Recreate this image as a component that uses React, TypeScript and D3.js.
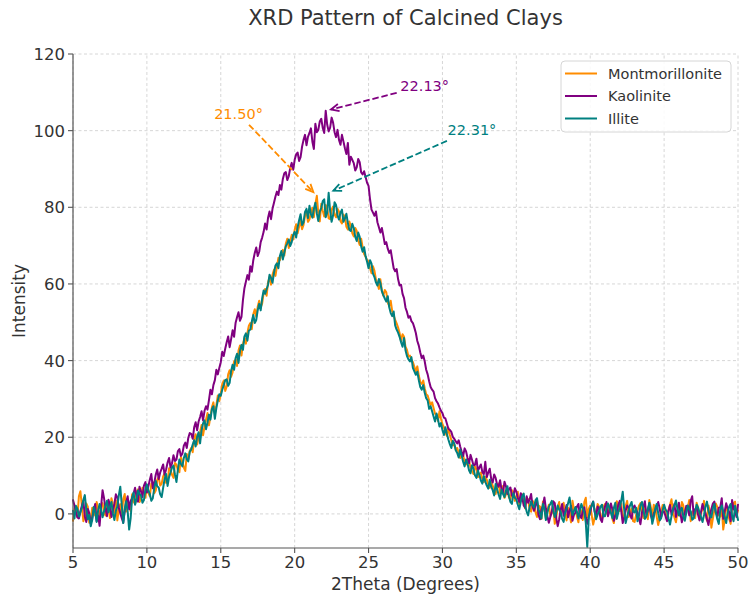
import React from 'react';
import * as d3 from 'd3';

// sampling grid of the patterns (2Theta, degrees)
const THETA_START = 5;
const THETA_STEP = 0.1;

const montmorillonite = [
  -1.8, 1.4, 0.9, -0.8, 4.6, 5.9, 2.2, -1.9, -0.6, 2.7, 1.9, -2.3, -1.4, 1.6, 0.8, -0.4, 3.1, 1.2, -0.9, 2.4,
  2.8, 0.3, -0.4, 3.2, 1.6, -1.1, 4.1, 2.6, 0.2, 3.5, -1.7, 1.2, 2.5, -0.6, 3.9, 5.2, 0.6, 3.4, 2.2, 0.7,
  5.1, 3.2, 2.6, 5.7, 6.4, 3.1, 3.9, 6.8, 5.8, 4.2, 7.2, 5.5, 4.6, 7.9, 8.3, 5.4, 6.1, 8.9, 9.6, 7.4,
  7.9, 9.8, 10.6, 8.1, 8.2, 11.9, 11.5, 10.2, 9.4, 13.3, 12.8, 11.4, 10.9, 14.8, 13.6, 12.1, 11.2, 15.6, 14.1, 16.4,
  17.2, 16.1, 19.6, 20.8, 18.1, 19.9, 21.4, 23.2, 20.5, 22.7, 24.6, 26.3, 23.1, 25.4, 27.8, 29.1, 26.2, 28.3, 30.9, 29.4,
  31.4, 33.9, 34.8, 32.1, 33.2, 36.4, 37.5, 35.8, 36.9, 39.8, 40.2, 38.6, 42.6, 43.9, 41.3, 44.2, 45.9, 44.4, 47.2, 49.1,
  49.8, 48.2, 52.1, 53.4, 51.4, 54.1, 55.6, 53.8, 54.9, 57.6, 58.7, 56.9, 60.4, 61.8, 59.8, 62.4, 63.7, 62.1, 64.6, 66.8,
  66.2, 67.9, 68.9, 67.4, 70.5, 71.8, 69.4, 71.2, 72.8, 71.6, 74.1, 75.6, 73.2, 74.9, 76.5, 74.3, 75.4, 77.8, 78.9, 76.2,
  76.8, 78.6, 79.9, 77.4, 80.8, 83.0, 78.4, 76.3, 80.9, 79.1, 77.6, 80.6, 79.8, 77.1, 76.9, 79.4, 80.2, 78.1, 77.4, 79.6,
  78.9, 76.4, 75.8, 78.1, 77.6, 74.9, 74.2, 76.3, 75.1, 73.2, 72.4, 74.6, 73.8, 71.4, 70.2, 71.8, 69.5, 67.8, 67.1, 66.2,
  65.9, 64.1, 62.8, 64.6, 63.4, 61.2, 60.1, 58.7, 61.2, 58.3, 56.9, 58.4, 57.8, 55.1, 54.2, 55.6, 52.9, 51.8, 50.6, 49.7,
  48.6, 47.2, 45.1, 46.9, 46.2, 43.6, 42.8, 41.1, 41.3, 40.2, 39.6, 38.4, 37.2, 38.5, 36.1, 34.4, 33.9, 34.8, 32.8, 31.2,
  30.9, 29.6, 28.4, 29.1, 27.6, 26.1, 25.9, 24.2, 26.8, 24.9, 23.4, 22.6, 21.2, 20.4, 22.5, 20.6, 19.3, 17.9, 18.1, 16.8,
  17.2, 15.9, 14.6, 16.1, 15.3, 13.6, 12.9, 14.4, 13.8, 12.1, 11.2, 10.4, 12.4, 11.6, 9.6, 10.2, 10.8, 9.1, 8.3, 9.7,
  8.9, 7.6, 6.8, 8.2, 7.4, 6.1, 5.2, 6.9, 7.9, 5.4, 6.1, 7.3, 4.2, 5.1, 6.6, 4.3, 3.8, 6.2, 5.7, 3.4,
  4.6, 5.8, 2.3, 3.6, 5.1, 2.7, 1.4, 4.2, 3.8, 1.1, 0.6, 3.4, 2.9, 0.4, -0.8, 2.2, 1.9, -1.3, 3.2, 1.5,
  -1.2, 0.9, 2.4, -0.6, 0.3, 1.7, -2.6, -0.9, 1.8, 3.1, -0.4, 1.2, 2.9, 0.1, -1.7, 1.6, 0.5, -2.2, 3.4, 1.1,
  1.6, -0.7, -2.2, 1.4, 0.8, -1.6, 3.1, 4.2, -0.9, 1.3, 2.2, -0.3, -2.8, -1.1, 0.4, 2.6, 1.9, -0.6, -1.5, 1.8,
  2.6, 0.4, -0.3, 2.2, 1.1, -1.3, -2.4, 0.8, 3.3, 1.6, 0.7, 2.8, -1.6, -0.4, 2.1, 3.4, -0.8, 0.6, 1.4, -1.9,
  -2.1, -0.4, 0.9, 2.1, 2.8, 0.3, -1.1, 1.7, 0.2, -1.4, 3.6, 1.8, -0.7, 2.4, 1.5, -0.8, -2.9, -1.2, 0.6, 2.3,
  1.8, 0.2, -1.3, 1.1, 2.4, 3.8, 0.3, -0.9, -2.2, 0.4, 1.2, -0.7, 3.1, 2.2, -0.5, 1.3, 1.7, 3.6, -1.9, 0.5,
  0.8, -1.1, 2.9, 1.6, -1.4, 0.2, 1.3, 3.4, -0.2, -1.8, 2.2, 0.6, -3.6, -1.2, 0.9, 2.7, 1.8, -0.3, -0.7, 1.9,
  -4.1, -1.6, 2.3, 0.8, -1.2, -2.6, 1.4, 2.8, 3.2, -0.4, 0.9,
];

const kaolinite = [
  3.6, 2.2, 0.4, -0.9, -1.2, 0.7, 2.1, 3.4, -0.6, -2.1, 1.3, 0.2, -2.4, -1.1, 0.8, 2.6, -1.9, -0.4, -3.1, 1.8,
  6.2, 4.1, 1.4, -0.6, 3.7, 2.3, -0.8, 0.9, 2.6, 5.1, 4.3, 1.6, 0.2, -1.1, -2.3, 0.7, 3.1, 4.6, 1.2, 3.4,
  4.1, 5.3, 6.8, 4.6, 3.2, 7.1, 5.9, 4.4, 7.4, 8.3, 5.6, 7.2, 8.9, 10.4, 6.7, 8.1, 10.2, 11.6, 9.1, 10.8,
  11.8, 12.9, 10.2, 11.6, 13.4, 14.6, 12.1, 13.2, 15.3, 13.8, 14.2, 16.4, 16.9, 15.1, 15.7, 17.8, 18.6, 17.2, 19.8, 21.1,
  20.9, 19.6, 22.6, 23.9, 21.8, 24.1, 25.3, 26.8, 24.4, 26.9, 28.1, 27.2, 29.7, 32.4, 31.2, 33.6, 34.9, 37.6, 36.4, 38.1,
  39.6, 42.3, 41.2, 43.1, 44.8, 46.3, 43.5, 45.6, 47.9, 46.2, 49.8, 51.3, 52.6, 50.4, 51.4, 55.8, 58.9, 60.6, 62.3, 61.1,
  64.6, 63.2, 66.2, 68.1, 69.5, 67.3, 68.4, 70.9, 72.1, 73.6, 75.8, 74.2, 77.3, 78.9, 76.9, 79.6, 81.2, 82.8, 84.1, 83.2,
  85.8, 84.6, 87.4, 88.9, 89.2, 87.1, 88.1, 90.3, 91.6, 89.8, 92.4, 93.8, 94.3, 92.1, 93.1, 95.8, 97.6, 98.9, 96.2, 98.4,
  99.4, 100.6, 97.1, 95.2, 101.8, 99.6, 100.2, 102.4, 103.1, 100.7, 99.4, 105.2, 101.6, 99.8, 100.8, 103.4, 102.1, 99.6, 98.3, 100.2,
  97.6, 96.3, 98.9, 97.2, 95.4, 93.9, 96.8, 91.1, 93.2, 92.4, 91.5, 89.6, 90.4, 92.6, 91.8, 89.1, 88.6, 89.4, 87.9, 86.4,
  85.6, 82.1, 79.4, 78.6, 77.8, 78.9, 76.1, 74.8, 73.4, 74.6, 72.6, 70.4, 70.9, 69.2, 68.1, 68.8, 66.4, 64.1, 63.3, 63.9,
  61.2, 59.6, 59.8, 57.4, 56.3, 53.8, 52.7, 51.2, 51.6, 50.3, 49.8, 48.6, 47.2, 45.1, 43.9, 42.1, 40.6, 41.3, 39.8, 37.6,
  36.4, 34.6, 33.1, 32.4, 31.9, 30.2, 29.4, 28.8, 27.8, 26.9, 26.3, 25.1, 24.9, 23.6, 22.2, 21.9, 21.4, 20.1, 19.6, 18.9,
  18.4, 19.2, 17.6, 16.2, 15.1, 17.1, 16.3, 14.6, 13.2, 15.4, 14.1, 12.6, 12.8, 14.4, 11.2, 12.1, 12.9, 10.9, 10.4, 13.6,
  9.6, 10.8, 11.8, 9.1, 8.2, 10.3, 9.4, 7.6, 7.1, 8.8, 6.3, 5.6, 8.4, 7.2, 5.2, 6.4, 6.9, 4.8, 4.6, 6.7,
  5.8, 4.2, 3.1, 5.4, 4.4, 2.2, 1.6, 4.6, 2.9, 3.8, 5.2, 1.9, 0.8, 2.4, 3.6, -0.3, -1.4, 1.2, 2.1, 4.3,
  1.4, -0.6, -2.3, -0.8, 0.6, 3.3, 2.8, -1.1, -3.2, -1.4, 1.1, 2.6, -0.5, 0.8, 2.3, -0.9, 0.9, 2.1, -1.8, -0.2,
  0.3, 1.9, 2.6, -0.4, -1.1, 0.8, 1.7, -0.9, -2.6, -0.8, 0.4, 2.3, 3.2, 0.6, -0.7, 1.9, 1.3, -1.4, -2.1, 0.5,
  1.9, 3.1, -0.6, 0.7, 2.7, 1.2, -1.8, -0.4, 0.5, 2.4, 3.4, 0.8, -2.4, -1.1, 0.9, 2.2, 1.6, -0.3, -1.2, 1.4,
  2.2, 1.1, 0.4, -1.2, -2.7, 0.3, 1.8, 3.3, -0.3, 0.9, 2.5, -0.4, -1.6, 0.2, 0.7, 2.1, 3.1, 1.4, -0.9, 0.6,
  0.6, -0.7, -1.9, 0.8, 2.3, -0.2, 1.1, 2.6, -0.8, 1.2, 2.9, 0.4, -2.2, -0.6, 0.3, 2.1, 1.5, -0.4, 3.4, 4.6,
  -0.4, 1.2, 1.8, -0.3, -1.7, 0.6, 2.6, 1.1, 0.2, -1.4, -2.9, -0.5, 1.3, 2.7, 3.2, 0.4, -0.6, 1.6, 1.7, 4.1,
  -1.3, 0.6, 2.8, 1.4, 0.5, -1.9, 3.6, 1.2, 0.9, -0.8, 2.4,
];

const illite = [
  0.8, -1.2, 2.1, 1.3, -0.7, 0.4, 1.6, 3.6, 4.9, 1.2, -1.4, -0.3, -3.2, -1.6, 1.8, 0.6, -2.1, 0.9, 2.6, 1.1,
  -0.9, 0.7, 2.2, 3.4, 0.4, 1.8, 3.1, 0.2, -1.6, 0.8, 1.9, 4.8, 7.1, 2.3, -2.4, 1.2, 3.3, 0.6, -4.1, -1.2,
  4.2, 5.6, 2.4, 3.8, 6.1, 5.2, 4.8, 2.9, 3.6, 6.3, 7.7, 6.1, 5.2, 3.4, 4.1, 6.7, 8.6, 7.2, 6.9, 5.1,
  4.4, 6.8, 9.1, 10.4, 7.3, 9.6, 10.8, 12.1, 12.6, 10.3, 8.3, 11.6, 14.2, 13.1, 12.4, 14.6, 15.8, 14.2, 13.7, 16.2,
  16.8, 18.1, 19.2, 17.6, 20.1, 21.3, 18.4, 21.9, 23.6, 24.4, 22.1, 23.8, 25.9, 24.6, 27.3, 28.1, 24.8, 27.6, 29.6, 31.2,
  30.8, 32.4, 33.6, 34.9, 35.1, 33.4, 34.2, 37.3, 38.9, 37.6, 40.6, 41.8, 39.4, 42.6, 44.1, 42.8, 46.3, 47.1, 45.2, 47.8,
  48.1, 50.2, 51.9, 49.8, 50.6, 53.2, 54.8, 53.1, 56.2, 58.3, 57.4, 58.6, 59.8, 62.4, 61.6, 60.3, 62.9, 64.8, 65.4, 64.1,
  67.3, 68.6, 66.4, 68.2, 69.8, 70.6, 71.6, 69.9, 70.9, 72.8, 73.6, 72.1, 74.8, 76.6, 78.2, 75.4, 76.1, 78.8, 79.6, 77.2,
  80.4, 78.2, 77.3, 79.6, 81.2, 78.4, 76.4, 78.9, 79.8, 81.6, 82.1, 77.4, 78.6, 83.8, 79.1, 76.2, 77.9, 81.3, 80.6, 77.8,
  76.8, 78.6, 79.4, 76.2, 77.1, 78.3, 75.9, 74.1, 73.8, 75.7, 74.6, 72.3, 71.2, 73.4, 72.3, 69.8, 68.4, 69.6, 67.2, 65.8,
  64.1, 66.2, 65.3, 62.7, 61.8, 60.4, 59.6, 61.3, 60.2, 58.1, 57.1, 56.2, 55.4, 56.8, 53.9, 52.4, 51.6, 52.8, 49.2, 48.1,
  47.3, 46.2, 44.8, 43.6, 45.9, 42.7, 41.2, 40.3, 39.8, 40.9, 38.1, 37.2, 36.3, 37.1, 34.9, 33.1, 32.4, 33.6, 31.6, 30.2,
  29.6, 27.4, 28.1, 26.8, 25.4, 24.1, 26.2, 24.6, 22.8, 23.7, 21.9, 20.6, 22.6, 20.9, 19.4, 18.2, 17.2, 19.1, 18.4, 16.6,
  15.9, 14.7, 16.8, 15.2, 13.6, 12.4, 14.2, 13.1, 11.4, 10.6, 12.7, 11.8, 10.1, 9.4, 11.3, 10.2, 8.7, 7.9, 9.9, 8.4,
  7.4, 6.6, 8.9, 7.1, 6.2, 4.8, 7.8, 6.4, 5.1, 3.9, 6.3, 5.2, 4.4, 6.1, 7.2, 4.6, 3.1, 2.6, 5.4, 4.2,
  3.8, 2.4, 1.2, 3.1, 4.6, 5.3, 2.1, 0.6, -0.4, 1.8, 3.3, 2.2, 1.7, 3.6, 4.1, 1.1, 0.2, -1.2, 2.6, 1.4,
  -1.6, 0.3, 1.9, 2.6, 3.4, 0.9, -0.8, 0.4, 2.2, 1.1, 0.6, -1.3, -2.1, 0.2, 1.4, 2.8, 4.3, 1.6, -0.3, 0.8,
  1.8, 0.6, -1.2, 0.9, 2.6, 1.4, 0.4, -2.3, -8.6, -1.1, 1.3, 2.1, 3.2, 0.7, -1.4, -0.2, 0.8, 1.9, 2.4, -0.6,
  -0.6, 1.2, 2.7, 1.4, 0.3, -1.1, 1.6, 2.9, -1.3, 0.4, 1.8, 3.4, 5.8, 1.1, -2.4, -0.7, 0.9, 2.3, 3.1, 0.6,
  0.4, 1.6, -1.9, -0.4, 2.2, 3.1, 1.1, -1.3, -0.7, 1.2, 2.9, 0.7, -2.6, -0.9, 1.4, 2.6, 0.2, -1.7, -1.1, 0.9,
  2.4, 1.1, 0.6, -1.2, -2.8, -0.6, 1.2, 2.3, 3.5, 1.4, -0.4, 0.9, 1.6, -0.7, -1.8, 0.3, 2.2, 1.3, 0.7, -1.5,
  -1.2, 0.4, 2.4, 1.6, 0.3, -0.8, -2.1, -0.3, 1.9, 3.2, 0.8, -0.6, -0.9, 1.4, 2.6, 0.4, -1.4, -2.6, 1.1, 2.2,
  0.6, -0.8, -2.4, 0.3, 1.8, 2.6, -0.5, -1.9, 2.1, 0.4, -1.6,
];

const seriesNames = ['Montmorillonite', 'Kaolinite', 'Illite'];
const seriesValues = [montmorillonite, kaolinite, illite];
const seriesColors = ['#FF8C00', '#800080', '#008080'];

const xTicks = [5, 10, 15, 20, 25, 30, 35, 40, 45, 50];
const yTicks = [0, 20, 40, 60, 80, 100, 120];

const peakLabels = ['21.50°', '22.13°', '22.31°'];
const peakX = [21.5, 22.13, 22.31];
const peakLabelX = [16.2, 28.8, 32.0];
const peakLabelY = [104.4, 111.7, 100.2];

const W = 750;
const H = 599;
const FONT = 'DejaVu Sans, sans-serif';
const TEXT = '#333333';
const SPINE = '#555555';

export default function App() {
  const x = d3.scaleLinear().domain([5, 50]).range([73, 738]);
  const y = d3.scaleLinear().domain([-8.9, 120]).range([548, 54]);

  const line = d3
    .line<number>()
    .x((_, i) => x(THETA_START + i * THETA_STEP))
    .y((d) => y(d));

  const annotations = seriesValues.map((vals, k) => {
    const px = x(peakX[k]);
    const py = y(d3.max(vals) as number);
    const cx = x(peakLabelX[k]);
    const cy = y(peakLabelY[k]);
    const dx = px - cx;
    const dy = py - cy;
    const len = Math.hypot(dx, dy);
    const hw = 28;
    const hh = 11;
    const t = Math.min(hw / Math.abs(dx), hh / Math.abs(dy));
    const sx = cx + dx * t;
    const sy = cy + dy * t;
    const ux = dx / len;
    const uy = dy / len;
    const shrink = 5;
    const ex = px - ux * shrink;
    const ey = py - uy * shrink;
    const hl = 8;
    const hwid = 3.6;
    const bx = ex - ux * hl;
    const by = ey - uy * hl;
    const head = `M${bx - uy * hwid},${by + ux * hwid}L${ex},${ey}L${bx + uy * hwid},${by - ux * hwid}`;
    return { cx, cy, sx, sy, ex, ey, head };
  });

  return (
    <svg
      width={W}
      height={H}
      style={{ position: 'absolute', left: 0, top: 0, background: '#fff' }}
      fontFamily={FONT}
    >
      <rect x={0} y={0} width={W} height={H} fill="#ffffff" />
      {/* grid */}
      <g stroke="#cccccc" strokeWidth={0.8} strokeDasharray="3,2.5">
        {xTicks.map((t) => (
          <line key={'gx' + t} x1={x(t)} x2={x(t)} y1={y.range()[0]} y2={y.range()[1]} />
        ))}
        {yTicks.map((t) => (
          <line key={'gy' + t} x1={x.range()[0]} x2={x.range()[1]} y1={y(t)} y2={y(t)} />
        ))}
      </g>
      {/* series */}
      {seriesValues.map((vals, k) => (
        <path
          key={seriesNames[k]}
          d={line(vals) || ''}
          fill="none"
          stroke={seriesColors[k]}
          strokeWidth={2}
          strokeLinejoin="round"
          strokeLinecap="round"
        />
      ))}
      {/* spines */}
      <line x1={73} x2={73} y1={y.range()[1]} y2={y.range()[0]} stroke={SPINE} strokeWidth={1.2} />
      <line x1={x.range()[0]} x2={x.range()[1]} y1={548} y2={548} stroke={SPINE} strokeWidth={1.2} />
      {/* y ticks */}
      {yTicks.map((t) => (
        <g key={'ty' + t}>
          <line x1={68} x2={73} y1={y(t)} y2={y(t)} stroke={SPINE} strokeWidth={1.1} />
          <text x={65} y={y(t)} dy="0.36em" textAnchor="end" fontSize={16.5} fill={TEXT}>
            {t}
          </text>
        </g>
      ))}
      {/* x ticks */}
      {xTicks.map((t) => (
        <g key={'tx' + t}>
          <line x1={x(t)} x2={x(t)} y1={548} y2={553} stroke={SPINE} strokeWidth={1.1} />
          <text x={x(t)} y={568} textAnchor="middle" fontSize={16.5} fill={TEXT}>
            {t}
          </text>
        </g>
      ))}
      {/* axis labels */}
      <text x={405.5} y={590} textAnchor="middle" fontSize={17} fill={TEXT}>
        2Theta (Degrees)
      </text>
      <text
        transform={`translate(25,301) rotate(-90)`}
        textAnchor="middle"
        fontSize={17}
        fill={TEXT}
      >
        Intensity
      </text>
      {/* title */}
      <text x={405.5} y={25} textAnchor="middle" fontSize={21} fill={TEXT}>
        XRD Pattern of Calcined Clays
      </text>
      {/* annotations */}
      {annotations.map((a, k) => (
        <g key={'an' + k}>
          <line
            x1={a.sx}
            y1={a.sy}
            x2={a.ex}
            y2={a.ey}
            stroke={seriesColors[k]}
            strokeWidth={1.8}
            strokeDasharray="6.5,2.8"
          />
          <path d={a.head} fill="none" stroke={seriesColors[k]} strokeWidth={1.8} />
          <text x={a.cx} y={a.cy} dy="0.36em" textAnchor="middle" fontSize={14.5} fill={seriesColors[k]}>
            {peakLabels[k]}
          </text>
        </g>
      ))}
      {/* legend */}
      <g>
        <rect
          x={561}
          y={61}
          width={170}
          height={71}
          rx={4}
          fill="#ffffff"
          fillOpacity={0.85}
          stroke="#d6d6d6"
          strokeWidth={1}
        />
        {seriesNames.map((n, k) => (
          <g key={'lg' + n}>
            <line
              x1={565}
              x2={597}
              y1={73.5 + k * 22.5}
              y2={73.5 + k * 22.5}
              stroke={seriesColors[k]}
              strokeWidth={2}
            />
            <text x={608} y={73.5 + k * 22.5} dy="0.36em" fontSize={14.5} fill={TEXT}>
              {n}
            </text>
          </g>
        ))}
      </g>
    </svg>
  );
}
